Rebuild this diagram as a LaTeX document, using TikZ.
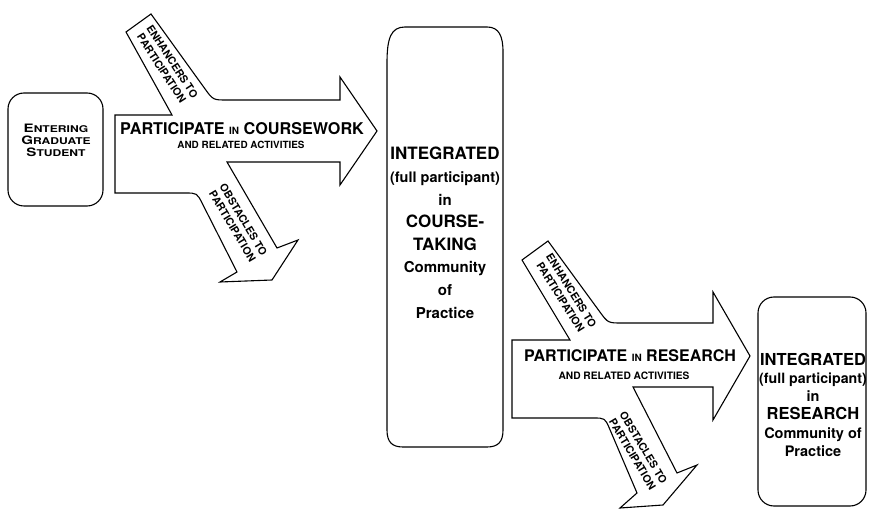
\documentclass[tikz,border=0pt]{standalone}
\usepackage{fontspec}
\setmainfont{TeX Gyre Heros}
\usepackage{graphicx}
\newcommand\capsm[2]{{\fontsize{11.6}{11.7}\selectfont #1}{\fontsize{9.3}{11.7}\selectfont #2}}
\tikzset{
  shapeline/.style={draw=black, line width=1.1pt, line join=miter, fill=white},
  boxline/.style={draw=black, line width=1.1pt, fill=white},
  lbl/.style={anchor=base, inner sep=0pt, font=\bfseries},
  bannertext/.style={inner sep=0pt, align=center, font=\bfseries\fontsize{10.6}{12.8}\selectfont},
}
\begin{document}
\begin{tikzpicture}[x=1pt,y=-1pt]
\useasboundingbox (0,0) rectangle (870,510);
\fill[white] (0,0) rectangle (870,510);

% box 1
\draw[boxline, rounded corners=16pt] (8,93) rectangle (103,206);
\node[lbl] (ent1) at (56,133) {\scalebox{1.3}[1]{\capsm{E}{NTERING}}};
\node[lbl] (ent2) at (56,144.7) {\scalebox{1.3}[1]{\capsm{G}{RADUATE}}};
\node[lbl] (ent3) at (56,156.4) {\scalebox{1.3}[1]{\capsm{S}{TUDENT}}};

% arrow 1
\draw[shapeline] (115,115) -- (172,115) -- (126,32) -- (151,14) -- (204.8,88.6)
  .. controls (213,100) .. (227,100) -- (340,100) -- (340,77) -- (377,131)
  -- (340,185) -- (340,162) -- (227,162) -- (277,248) -- (298,240) -- (272,280)
  -- (220,282) -- (237,272) -- (202.4,203.7) .. controls (197,193) .. (185,193)
  -- (115,193) -- cycle;
\node[lbl] (part1) at (242,135) {\fontsize{16.2}{16}\selectfont PARTICIPATE {\fontsize{10}{10}\selectfont IN} COURSEWORK};
\node[lbl] (rel1) at (241,149) {\fontsize{9.9}{10}\selectfont AND RELATED ACTIVITIES};
\node[bannertext, rotate=-57] (enh1) at (167,65) {ENHANCERS TO\\PARTICIPATION};
\node[bannertext, rotate=-59] (obs1) at (238,223) {OBSTACLES TO\\PARTICIPATION};

% box 2
\draw[boxline] (387,63) .. controls (387,38) and (391,27) .. (405,27) -- (487,27)
  .. controls (499,27) and (503,36) .. (503,52) -- (503,430)
  .. controls (503,442) and (498,447) .. (487,447) -- (403,447)
  .. controls (392,447) and (387,442) .. (387,430) -- cycle;
\node[lbl] (i1) at (445,160) {\fontsize{17}{17}\selectfont INTEGRATED};
\node[lbl] (i2) at (445,182.6) {\fontsize{14.5}{15}\selectfont (full participant)};
\node[lbl] (i3) at (445,205.2) {\fontsize{15}{15}\selectfont in};
\node[lbl] (i4) at (445,227.8) {\fontsize{17}{17}\selectfont COURSE-};
\node[lbl] (i5) at (445,250.4) {\fontsize{17}{17}\selectfont TAKING};
\node[lbl] (i6) at (445,273) {\fontsize{15}{15}\selectfont Community};
\node[lbl] (i7) at (445,295.6) {\fontsize{15}{15}\selectfont of};
\node[lbl] (i8) at (445,318.2) {\fontsize{15}{15}\selectfont Practice};

% arrow 2
\draw[shapeline] (512,340) -- (570,340) -- (522,260) -- (548,241) -- (599.7,311.7)
  .. controls (608,323) .. (622,323) -- (713,323) -- (713,292) -- (750,356)
  -- (713,420) -- (713,387) -- (633,387) -- (677,473) -- (697,465) -- (663,505)
  -- (620,508) -- (637,493) -- (609.7,429) .. controls (605,418) .. (593,418)
  -- (512,418) -- cycle;
\node[lbl] (part2) at (630,362) {\fontsize{16}{16}\selectfont PARTICIPATE {\fontsize{10}{10}\selectfont IN} RESEARCH};
\node[lbl] (rel2) at (624,380) {\fontsize{10.2}{10}\selectfont AND RELATED ACTIVITIES};
\node[bannertext, rotate=-58] (enh2) at (566,294) {ENHANCERS TO\\PARTICIPATION};
\node[bannertext, rotate=-59] (obs2) at (638,451) {OBSTACLES TO\\PARTICIPATION};

% box 3
\draw[boxline, rounded corners=16pt] (758,297) rectangle (866,506);
\node[lbl] (r1) at (813,366) {\fontsize{16.5}{17}\selectfont INTEGRATED};
\node[lbl] (r2) at (813,384) {\fontsize{14.2}{15}\selectfont (full participant)};
\node[lbl] (r3) at (813,402) {\fontsize{14.5}{15}\selectfont in};
\node[lbl] (r4) at (813,420) {\fontsize{16.5}{17}\selectfont RESEARCH};
\node[lbl] (r5) at (813,438) {\fontsize{14.5}{15}\selectfont Community of};
\node[lbl] (r6) at (813,456) {\fontsize{14.5}{15}\selectfont Practice};
\end{tikzpicture}
\end{document}
